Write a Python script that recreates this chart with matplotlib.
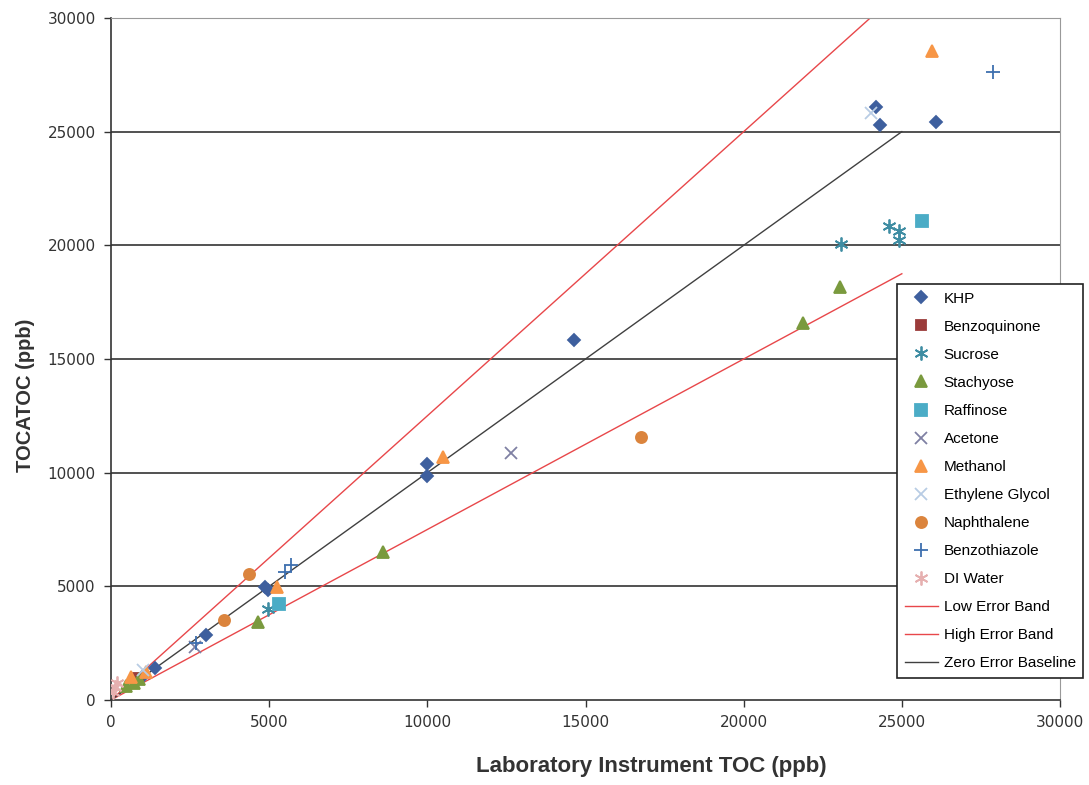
import matplotlib
matplotlib.use('Agg')
import matplotlib.pyplot as plt
import numpy as np

# series values (ppb): lab instrument x, TOCATOC y
khp_x = [1000, 1400, 2990, 4860, 4950, 9975, 9975, 14650, 24170, 24300, 26080]
khp_y = [1050, 1400, 2860, 4970, 4850, 10380, 9850, 15830, 26080, 25280, 25420]
benzoquinone_x = [850]
benzoquinone_y = [950]
sucrose_x = [4950, 23090, 24590, 24900, 24900]
sucrose_y = [4000, 20050, 20840, 20620, 20230]
stachyose_x = [480, 730, 900, 4640, 8610, 21860, 23060]
stachyose_y = [600, 750, 920, 3430, 6510, 16580, 18160]
raffinose_x = [5300, 25640]
raffinose_y = [4220, 21060]
acetone_x = [2650, 12640]
acetone_y = [2350, 10860]
methanol_x = [620, 1110, 5240, 10510, 25950]
methanol_y = [1000, 1230, 4980, 10680, 28540]
ethylene_glycol_x = [1000, 24010]
ethylene_glycol_y = [1300, 25810]
naphthalene_x = [3560, 4350, 16740]
naphthalene_y = [3520, 5540, 11560]
benzothiazole_x = [2700, 5500, 5690, 27890]
benzothiazole_y = [2500, 5650, 5960, 27610]
di_water_x = [60, 130, 190]
di_water_y = [350, 570, 750]

line_x = [0, 25000]
low_factor = 0.75
high_factor = 1.25

series = [
    ('KHP', khp_x, khp_y, 'D', '#3E5F9E', 6),
    ('Benzoquinone', benzoquinone_x, benzoquinone_y, 's', '#9B3B3A', 7),
    ('Sucrose', sucrose_x, sucrose_y, (6, 2, 0), '#3F8DA3', 10),
    ('Stachyose', stachyose_x, stachyose_y, '^', '#7A9A3E', 8),
    ('Raffinose', raffinose_x, raffinose_y, 's', '#4BACC6', 8),
    ('Acetone', acetone_x, acetone_y, 'x', '#7F80A3', 8),
    ('Methanol', methanol_x, methanol_y, '^', '#F79646', 8),
    ('Ethylene Glycol', ethylene_glycol_x, ethylene_glycol_y, 'x', '#B8CCE4', 8),
    ('Naphthalene', naphthalene_x, naphthalene_y, 'o', '#DB843D', 8),
    ('Benzothiazole', benzothiazole_x, benzothiazole_y, '+', '#3E6FAF', 10),
    ('DI Water', di_water_x, di_water_y, (6, 2, 0), '#E6B0B0', 10),
]

plt.rcParams['font.family'] = ['DejaVu Sans']

fig = plt.figure(figsize=(10.89, 7.85), dpi=100)
ax = fig.add_axes([111 / 1089, 85 / 785, 949 / 1089, 682 / 785])

for y in [5000, 10000, 15000, 20000, 25000]:
    ax.axhline(y, color='#333333', lw=1.2, zorder=1)

for name, xs, ys, mk, col, ms in series:
    ax.plot(xs, ys, ls='none', marker=mk, color=col, markersize=ms,
            markeredgewidth=1.3, label=name, zorder=3)

lx = np.array(line_x)
ax.plot(lx, lx * low_factor, color='#E8474A', lw=1, label='Low Error Band', zorder=2)
ax.plot(lx, lx * high_factor, color='#E8474A', lw=1, label='High Error Band', zorder=2)
ax.plot(lx, lx, color='#404040', lw=1, label='Zero Error Baseline', zorder=2)

ax.set_xlim(0, 30000)
ax.set_ylim(0, 30000)
ax.set_xticks(range(0, 30001, 5000))
ax.set_yticks(range(0, 30001, 5000))
ax.tick_params(direction='out', length=5, width=1, labelsize=11,
               labelcolor='#333333', color='#333333', pad=6)

for s in ['top', 'right']:
    ax.spines[s].set_color('#999999')
for s in ['left', 'bottom']:
    ax.spines[s].set_color('#333333')
    ax.spines[s].set_linewidth(1.2)

# titles sit off-centre in the original (centred on the chart area)
ax.set_xlabel('Laboratory Instrument TOC (ppb)', fontsize=16, fontweight='bold',
              family='Liberation Sans', color='#333333')
ax.set_ylabel('TOCATOC (ppb)', fontsize=14.5, fontweight='bold',
              family='Liberation Sans', color='#333333')
ax.xaxis.set_label_coords(0.569, -0.082)
ax.yaxis.set_label_coords(-0.080, 0.447)

handles, labels = ax.get_legend_handles_labels()
leg = fig.legend(handles, labels, loc='upper left',
                 bbox_to_anchor=(897 / 1089, 1 - 284 / 785),
                 prop={'family': 'Liberation Sans', 'size': 11},
                 frameon=True, fancybox=False, edgecolor='#222222', framealpha=1,
                 labelspacing=0.92, handlelength=2.2, handletextpad=0.35,
                 borderpad=0.5, borderaxespad=0)
leg.get_frame().set_linewidth(1.2)

fig.savefig('out.png', dpi=100)
